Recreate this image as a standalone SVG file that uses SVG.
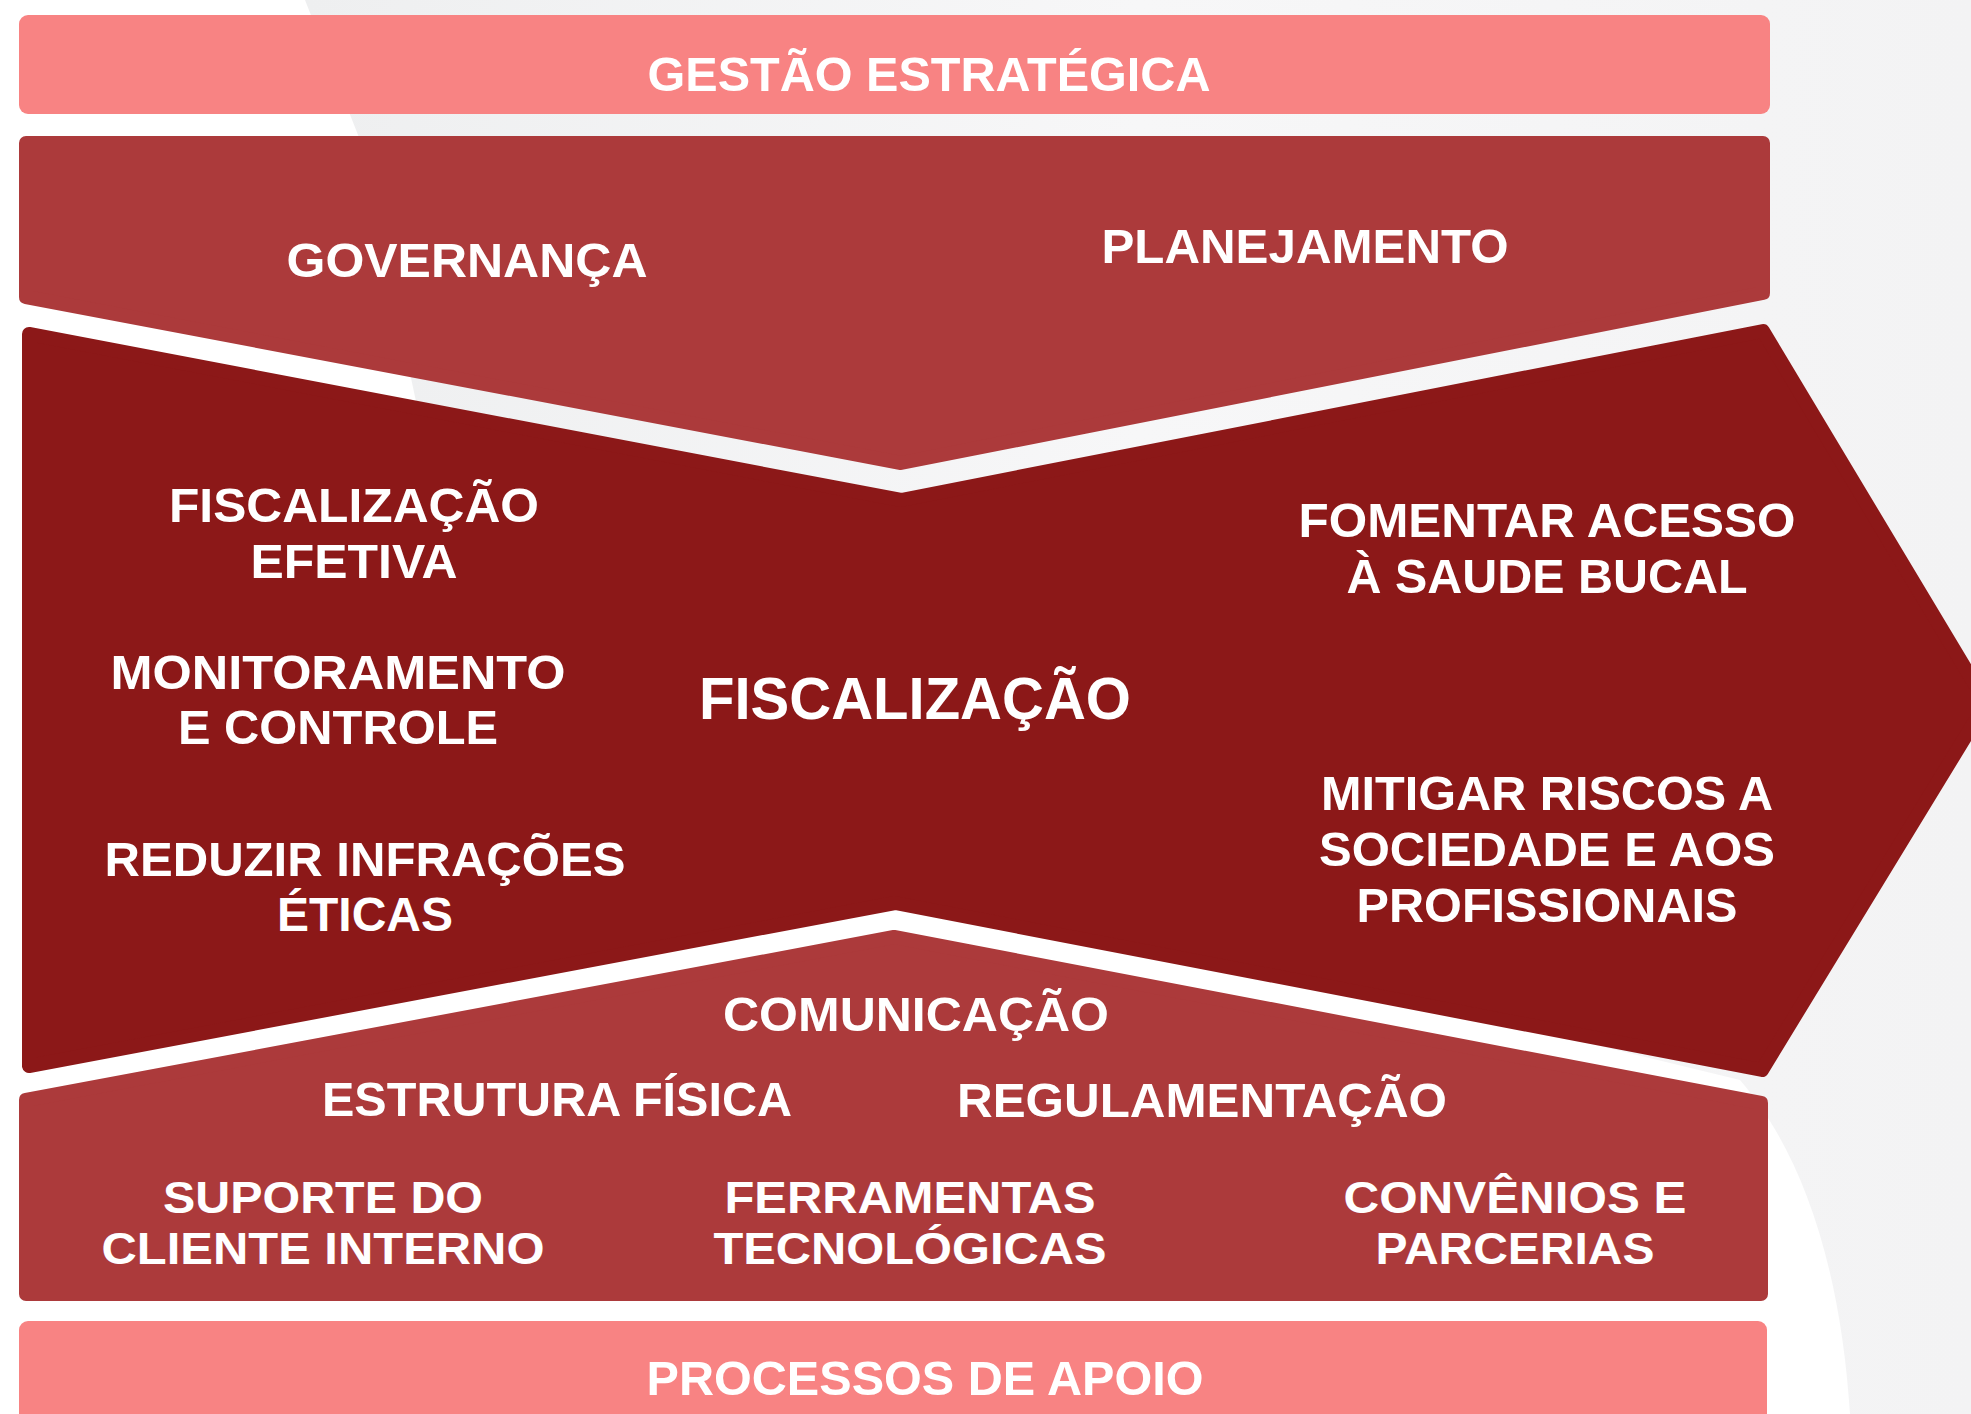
<svg xmlns="http://www.w3.org/2000/svg" width="1971" height="1414" viewBox="0 0 1971 1414">
  <defs>
    <linearGradient id="bgGrad" x1="0" y1="0" x2="1" y2="0">
      <stop offset="0" stop-color="#eeeff0"/>
      <stop offset="0.5" stop-color="#f7f7f8"/>
      <stop offset="1" stop-color="#f3f3f4"/>
    </linearGradient>
    <style>
      .lbl { font-family: "Liberation Sans", "Open Sans", sans-serif; font-weight: 700; fill: #ffffff; text-anchor: middle; font-size: 48px; }
      .sm { font-size: 45px; }
      .big { font-size: 60px; }
      .pink { fill: #F88383; }
      .mid { fill: #AC3A3B; stroke: #AC3A3B; stroke-width: 14; stroke-linejoin: round; }
      .dark { fill: #8C1818; stroke: #8C1818; stroke-width: 14; stroke-linejoin: round; }
    </style>
  </defs>

  <g id="background">
    <rect x="0" y="0" width="1971" height="1414" fill="#ffffff"/>
    <path d="M305,0 L1971,0 L1971,1414 L1850,1414 C1840,1260 1800,1150 1740,1080 L1000,900 L420,420 L360,140 Z" fill="url(#bgGrad)"/>
  </g>

  <g id="gestao-estrategica">
    <rect class="pink" x="19" y="15" width="1751" height="99" rx="9"/>
    <text class="lbl" x="929" y="91" textLength="563" lengthAdjust="spacingAndGlyphs">GESTÃO ESTRATÉGICA</text>
  </g>

  <g id="gestao-band">
    <polygon class="mid" points="26,143 1763,143 1763,293 901,463 26,297"/>
    <text class="lbl" x="467" y="277" textLength="361" lengthAdjust="spacingAndGlyphs">GOVERNANÇA</text>
    <text class="lbl" x="1305" y="263" textLength="407" lengthAdjust="spacingAndGlyphs">PLANEJAMENTO</text>
  </g>

  <g id="fiscalizacao">
    <polygon class="dark" points="29,334 901,500 1763,331 1986,703 1762,1070 895,903 29,1066"/>
    <text class="lbl big" x="915" y="719" textLength="432" lengthAdjust="spacingAndGlyphs">FISCALIZAÇÃO</text>
    <text class="lbl" x="354" y="522" textLength="370" lengthAdjust="spacingAndGlyphs">FISCALIZAÇÃO</text>
    <text class="lbl" x="354" y="578" textLength="207" lengthAdjust="spacingAndGlyphs">EFETIVA</text>
    <text class="lbl" x="338" y="689" textLength="455" lengthAdjust="spacingAndGlyphs">MONITORAMENTO</text>
    <text class="lbl" x="338" y="744" textLength="320" lengthAdjust="spacingAndGlyphs">E CONTROLE</text>
    <text class="lbl" x="365" y="876" textLength="521" lengthAdjust="spacingAndGlyphs">REDUZIR INFRAÇÕES</text>
    <text class="lbl" x="365" y="931" textLength="176" lengthAdjust="spacingAndGlyphs">ÉTICAS</text>
    <text class="lbl" x="1547" y="537" textLength="497" lengthAdjust="spacingAndGlyphs">FOMENTAR ACESSO</text>
    <text class="lbl" x="1547" y="593" textLength="401" lengthAdjust="spacingAndGlyphs">À SAUDE BUCAL</text>
    <text class="lbl" x="1547" y="810" textLength="452" lengthAdjust="spacingAndGlyphs">MITIGAR RISCOS A</text>
    <text class="lbl" x="1547" y="866" textLength="456" lengthAdjust="spacingAndGlyphs">SOCIEDADE E AOS</text>
    <text class="lbl" x="1547" y="922" textLength="381" lengthAdjust="spacingAndGlyphs">PROFISSIONAIS</text>
  </g>

  <g id="apoio-band">
    <polygon class="mid" points="26,1100 894,937 1761,1103 1761,1294 26,1294"/>
    <text class="lbl" x="916" y="1031" textLength="386" lengthAdjust="spacingAndGlyphs">COMUNICAÇÃO</text>
    <text class="lbl" x="557" y="1116" textLength="470" lengthAdjust="spacingAndGlyphs">ESTRUTURA FÍSICA</text>
    <text class="lbl" x="1202" y="1117" textLength="490" lengthAdjust="spacingAndGlyphs">REGULAMENTAÇÃO</text>
    <text class="lbl sm" x="323" y="1213" textLength="320" lengthAdjust="spacingAndGlyphs">SUPORTE DO</text>
    <text class="lbl sm" x="323" y="1264" textLength="443" lengthAdjust="spacingAndGlyphs">CLIENTE INTERNO</text>
    <text class="lbl sm" x="910" y="1213" textLength="371" lengthAdjust="spacingAndGlyphs">FERRAMENTAS</text>
    <text class="lbl sm" x="910" y="1264" textLength="393" lengthAdjust="spacingAndGlyphs">TECNOLÓGICAS</text>
    <text class="lbl sm" x="1515" y="1213" textLength="343" lengthAdjust="spacingAndGlyphs">CONVÊNIOS E</text>
    <text class="lbl sm" x="1515" y="1264" textLength="279" lengthAdjust="spacingAndGlyphs">PARCERIAS</text>
  </g>

  <g id="processos-de-apoio">
    <rect class="pink" x="19" y="1321" width="1748" height="110" rx="9"/>
    <text class="lbl" x="925" y="1395" textLength="557" lengthAdjust="spacingAndGlyphs">PROCESSOS DE APOIO</text>
  </g>

  <g id="connectors"/>
</svg>
